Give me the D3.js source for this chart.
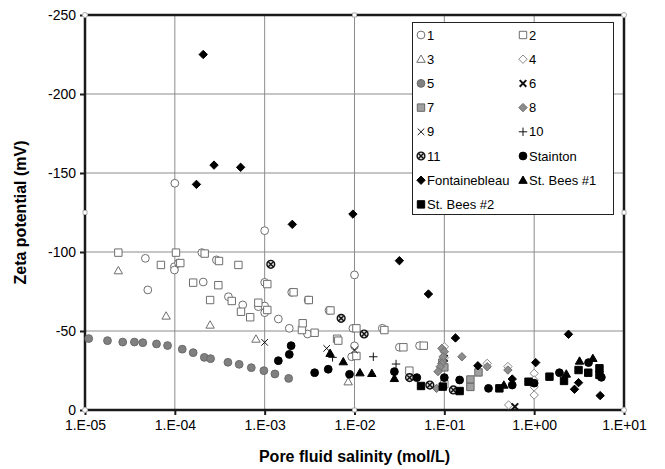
<!DOCTYPE html>
<html>
<head>
<meta charset="utf-8">
<script src="https://cdn.jsdelivr.net/npm/d3@7"></script>
<style>
  body { margin: 0; background: #fff; }
  svg { font-family: "Liberation Sans", Arial, sans-serif; }
</style>
</head>
<body>
<div class="container"></div>
<script>
const width = 665;
const height = 469;
const margin = { top: 15, bottom: 59, left: 85, right: 41 };

// tick labels
const xTicks = [1e-5, 1e-4, 1e-3, 1e-2, 1e-1, 1, 10];
const xTickLabels = ["1.E-05", "1.E-04", "1.E-03", "1.E-02", "1.E-01", "1.E+00", "1.E+01"];
const yTicks = [0, -50, -100, -150, -200, -250];

// data: [salinity (mol/L), zeta potential (mV)]
const series1 = [[4.7e-5,-96],[5.0e-5,-76],[1.0e-4,-143.5],[9.9e-5,-90.7],[9.9e-5,-88.6],[1.1e-4,-93],[2.0e-4,-99.6],[2.07e-4,-81],
  [2.9e-4,-95],[3.95e-4,-71.7],[5.7e-4,-66.5],[8.5e-4,-65.4],[1.0e-3,-113.5],[1.0e-3,-80.8],[1.0e-3,-65.8],[1.0e-3,-61.6],
  [1.42e-3,-57.6],[1.88e-3,-51.7],[2.0e-3,-74.5],[3.0e-3,-48.1],[3.05e-3,-69.6],[5.2e-3,-63],[9.6e-3,-51.7],[1.0e-2,-85.5],
  [1.0e-2,-40.6],[9.3e-3,-33.7],[2.04e-2,-51.7],[3.16e-2,-39.7],[5.3e-2,-40.7]];
const series2 = [[2.35e-5,-99.6],[7.0e-5,-91.8],[1.03e-4,-99.6],[1.15e-4,-93],[1.6e-4,-80.6],[2.15e-4,-99],[2.47e-4,-69.6],
  [3.05e-4,-79],[3.1e-4,-94.3],[4.3e-4,-69],[5.1e-4,-91.8],[5.45e-4,-62.2],[6.9e-4,-58.7],[8.5e-4,-67.9],[1.07e-3,-79.7],
  [1.07e-3,-63.3],[2.1e-3,-74.5],[2.6e-3,-50.6],[2.65e-3,-54.9],[3.1e-3,-69.6],[3.6e-3,-48.9],[5.4e-3,-63],[6.4e-3,-45.1],
  [6.6e-3,-43.9],[1.05e-2,-51.7],[1.05e-2,-34.2],[2.15e-2,-50.6],[3.5e-2,-39.7],[5.9e-2,-40.7],[4.08e-2,-24.9],[0.1,-16.3]];
const series3 = [[2.35e-5,-88.2],[8.0e-5,-59.5],[2.47e-4,-53.8],[8.0e-4,-44.9],[8.5e-3,-17.9]];
const series4 = [[0.1,-40],[0.1,-33],[0.52,-3.2],[1.0,-23.2],[1.0,-19],[1.0,-14.6],[1.0,-9.5],[0.3,-29.5],[0.51,-27.5]];
const series5 = [[1.1e-5,-45.2],[1.78e-5,-43.9],[2.63e-5,-43],[3.55e-5,-43],[4.4e-5,-42.6],[6.25e-5,-41.8],[8.3e-5,-40.8],
  [1.21e-4,-38.5],[1.6e-4,-36.3],[2.13e-4,-33.3],[2.5e-4,-32.5],[3.9e-4,-30.2],[5.2e-4,-28.9],[7.1e-4,-26.8],[9.8e-4,-24.9],
  [1.3e-3,-22.8],[1.85e-3,-20]];
const series6 = [[0.1,-32.7],[0.61,-2.1]];
const series7 = [[0.095,-30],[0.1,-27],[0.195,-19.3],[0.195,-14.6],[0.24,-23.8]];
const series8 = [[0.094,-39],[0.1,-36.9],[0.097,-33.7],[0.157,-33.7],[0.094,-29.5],[0.09,-27.4],[0.085,-24.3],[0.082,-13.7],
  [0.3,-27.4],[0.51,-25.3]];
const series9 = [[1.0e-3,-42.8],[4.9e-3,-39],[1.0e-2,-38]];
const series10 = [[5.7e-3,-33.3],[1.62e-2,-33.7],[2.9e-2,-29.1]];
const series11 = [[1.17e-3,-92.2],[7.1e-3,-58],[1.28e-2,-48.1],[4.1e-2,-20.5],[6.9e-2,-15.8],[0.126,-12.7]];
const stainton = [[1.42e-3,-31.2],[1.88e-3,-35.2],[1.97e-3,-40.7],[3.6e-3,-23.6],[5.1e-3,-25.8],[8.8e-3,-22.6],[2.78e-2,-24.3],
  [4.94e-2,-20.5],[0.1,-20.5],[0.148,-19],[0.31,-13.7],[0.57,-15.8],[1.0,-17],[1.91,-23.6],[4.03,-30],[5.6,-20.7]];
const fontainebleau = [[1.74e-4,-142.8],[2.07e-4,-225],[2.73e-4,-155],[5.4e-4,-153.6],[2.03e-3,-117.5],[9.6e-3,-124],
  [3.16e-2,-94.5],[6.65e-2,-73.4],[0.133,-45.6],[0.236,-28],[0.57,-19.6],[1.04,-30],[2.41,-47.9],[2.81,-13.1],[3.12,-17.3],[5.43,-9.1]];
const stBees1 = [[5.35e-3,-35.9],[7.5e-3,-30.6],[1.15e-2,-23.6],[1.56e-2,-23.2],[2.78e-2,-20],[0.46,-15.8],[2.28,-22.8],[3.2,-31],[4.5,-32.7]];
const stBees2 = [[5.5e-2,-15.2],[9.6e-2,-14.8],[0.148,-12],[0.41,-13.7],[0.865,-17.9],[1.48,-21.1],[2.15,-18.4],[3.12,-25.3],
  [4.0,-23.6],[5.33,-26.4],[5.33,-22.2]];

const seriesNames = ["1","2","3","4","5","6","7","8","9","10","11","Stainton","Fontainebleau","St. Bees #1","St. Bees #2"];
const seriesData = [series1,series2,series3,series4,series5,series6,series7,series8,series9,series10,series11,stainton,fontainebleau,stBees1,stBees2];
const seriesShape = ["circle","square","triangle","diamond","circle","xbold","square","diamond","x","plus","circx","circle","diamond","triangle","square"];
const seriesFill = ["white","white","white","white","#808080","none","#a0a0a0","#8c8c8c","none","none","#d8d8d8","black","black","black","black"];
const seriesStroke = ["#6e6e6e","#6e6e6e","#6e6e6e","#8a8a8a","#6a6a6a","#111","#666","#6f6f6f","#111","#111","#111","black","black","black","black"];

function markerPath(shape) {
  if (shape === "circle") { const r = 3.9; return `M${r},0A${r},${r} 0 1,1 ${-r},0A${r},${r} 0 1,1 ${r},0Z`; }
  if (shape === "square") { const s = 3.7; return `M${-s},${-s}H${s}V${s}H${-s}Z`; }
  if (shape === "triangle") { const s = 4.2; return `M0,${-s}L${s},${s * 0.75}L${-s},${s * 0.75}Z`; }
  if (shape === "diamond") { const s = 4.2; return `M0,${-s}L${s},0L0,${s}L${-s},0Z`; }
  if (shape === "x" || shape === "xbold") { const s = 3.3; return `M${-s},${-s}L${s},${s}M${-s},${s}L${s},${-s}`; }
  if (shape === "plus") { const s = 4.2; return `M${-s},0H${s}M0,${-s}V${s}`; }
  if (shape === "circx") { const r = 3.9, s = 2.2; return `M${r},0A${r},${r} 0 1,1 ${-r},0A${r},${r} 0 1,1 ${r},0ZM${-s},${-s}L${s},${s}M${-s},${s}L${s},${-s}`; }
}

function strokeW(shape) {
  if (shape === "xbold") return 2;
  if (shape === "circx") return 1.4;
  return 1;
}

const xScale = d3.scaleLog()
  .domain([1e-5, 10])
  .range([margin.left, width - margin.right]);

const yScale = d3.scaleLinear()
  .domain([0, -250])
  .range([height - margin.bottom, margin.top]);

const svg = d3.select(".container")
  .append("svg")
  .attr("width", width)
  .attr("height", height);

svg.append("rect").attr("width", width).attr("height", height).attr("fill", "white");

// gridlines
svg.append("g")
  .selectAll("line")
  .data(xTicks.slice(1, -1))
  .join("line")
  .attr("x1", d => xScale(d)).attr("x2", d => xScale(d))
  .attr("y1", yScale(0)).attr("y2", yScale(-250))
  .attr("stroke", "#8c8c8c").attr("stroke-width", 1);

svg.append("g")
  .selectAll("line")
  .data(yTicks.slice(1, -1))
  .join("line")
  .attr("x1", xScale(1e-5)).attr("x2", xScale(10))
  .attr("y1", d => yScale(d)).attr("y2", d => yScale(d))
  .attr("stroke", "#8c8c8c").attr("stroke-width", 1);

// plot border
svg.append("rect")
  .attr("x", xScale(1e-5)).attr("y", yScale(-250))
  .attr("width", xScale(10) - xScale(1e-5))
  .attr("height", yScale(0) - yScale(-250))
  .attr("fill", "none").attr("stroke", "#1a1a1a").attr("stroke-width", 2.5);

// axes
const xAxis = d3.axisBottom(xScale)
  .tickValues(xTicks)
  .tickFormat((d, i) => xTickLabels[i])
  .tickSize(5).tickPadding(5);

svg.append("g")
  .attr("transform", `translate(0, ${yScale(0)})`)
  .call(xAxis)
  .call(g => g.select(".domain").remove())
  .call(g => g.selectAll("line").attr("stroke", "#1a1a1a").attr("stroke-width", 2))
  .call(g => g.selectAll("text").attr("font-size", "14px").attr("fill", "black").attr("font-family", "Liberation Sans, Arial"));

const yAxis = d3.axisLeft(yScale)
  .tickValues(yTicks)
  .tickFormat(d => String(d))
  .tickSize(5).tickPadding(4);

svg.append("g")
  .attr("transform", `translate(${xScale(1e-5)}, 0)`)
  .call(yAxis)
  .call(g => g.select(".domain").remove())
  .call(g => g.selectAll("line").attr("stroke", "#1a1a1a").attr("stroke-width", 2))
  .call(g => g.selectAll("text").attr("font-size", "14px").attr("fill", "black").attr("font-family", "Liberation Sans, Arial"));

// selection handles
const cx = [xScale(1e-5), (xScale(1e-5) + xScale(10)) / 2, xScale(10)];
const cy = [yScale(-250), (yScale(-250) + yScale(0)) / 2, yScale(0)];
const handles = [];
cx.forEach((x, i) => cy.forEach((y, j) => { if (!(i === 1 && j === 1)) handles.push([x, y, i !== 1 && j !== 1]); }));
svg.append("g")
  .selectAll("path")
  .data(handles)
  .join("path")
  .attr("transform", d => `translate(${d[0]},${d[1]})`)
  .attr("d", d => d[2] ? "M2.5,0A2.5,2.5 0 1,1 -2.5,0A2.5,2.5 0 1,1 2.5,0Z" : "M-2,-2H2V2H-2Z")
  .attr("fill", "white").attr("stroke", "#aaa").attr("stroke-width", 1);

// points
seriesData.forEach((data, k) => {
  svg.append("g")
    .selectAll("path")
    .data(data)
    .join("path")
    .attr("transform", d => `translate(${xScale(d[0])},${yScale(d[1])})`)
    .attr("d", markerPath(seriesShape[k]))
    .attr("fill", seriesFill[k])
    .attr("stroke", seriesStroke[k])
    .attr("stroke-width", strokeW(seriesShape[k]));
});

// legend
const legend = svg.append("g");
legend.append("rect")
  .attr("x", 412.5).attr("y", 22.5).attr("width", 201).attr("height", 192)
  .attr("fill", "white").attr("stroke", "#222").attr("stroke-width", 1);

const items = legend.selectAll("g")
  .data(seriesNames)
  .join("g")
  .attr("transform", (d, i) => `translate(${i % 2 === 0 ? 421 : 523}, ${35 + Math.floor(i / 2) * 24.2})`);

items.append("path")
  .attr("d", (d, i) => markerPath(seriesShape[i]))
  .attr("fill", (d, i) => seriesFill[i])
  .attr("stroke", (d, i) => seriesStroke[i])
  .attr("stroke-width", (d, i) => strokeW(seriesShape[i]));

items.append("text")
  .attr("x", 6)
  .attr("dy", "0.36em")
  .attr("font-size", "13px")
  .text(d => d);

// axis titles
svg.append("text")
  .attr("x", (xScale(1e-5) + xScale(10)) / 2)
  .attr("y", 462)
  .attr("text-anchor", "middle")
  .attr("font-size", "16px")
  .attr("font-weight", "bold")
  .text("Pore fluid salinity (mol/L)");

svg.append("text")
  .attr("transform", `translate(26, ${(yScale(0) + yScale(-250)) / 2}) rotate(-90)`)
  .attr("text-anchor", "middle")
  .attr("font-size", "16px")
  .attr("font-weight", "bold")
  .text("Zeta potential (mV)");
</script>
</body>
</html>
